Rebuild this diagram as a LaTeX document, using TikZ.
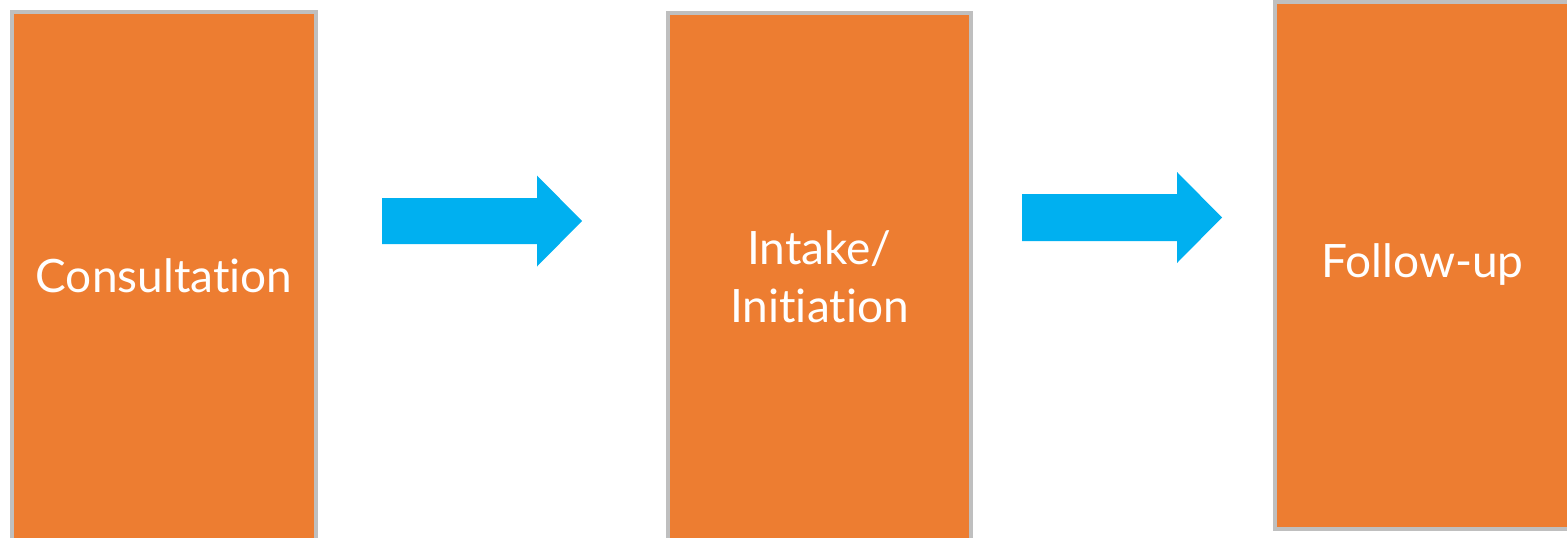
\documentclass[tikz,border=0pt]{standalone}
\usepackage{fontspec}
\setmainfont{Lato}[Ligatures=NoCommon]
\definecolor{boxorange}{HTML}{ED7D31}
\definecolor{boxgray}{HTML}{BFBFBF}
\definecolor{arrowblue}{HTML}{00B0F0}
\tikzset{
  stagebox/.style={fill=boxorange, draw=boxgray, line width=4pt, inner sep=0pt,
    text=white, font=\fontsize{46}{58}\selectfont, align=center},
  flowarrow/.style={fill=arrowblue, draw=none}
}
\begin{document}
\begin{tikzpicture}[x=1pt,y=-1pt]
\useasboundingbox (0,0) rectangle (1567,538);
\clip (0,0) rectangle (1567,538);
\node[stagebox, minimum width=304pt, minimum height=528pt] (b1) at (164,276) {Consultation};
\node[stagebox, minimum width=303pt, minimum height=528pt] (b2) at (819.5,277) {Intake/\\Initiation};
\node[stagebox, minimum width=295pt, minimum height=527pt] (b3) at (1422.5,265) {Follow-up};
% arrow from b1 to b2
\coordinate (a1s) at (382,221);
\coordinate (a1t) at (582,221);
\fill[flowarrow] ([yshift=-23pt]a1s) -- ([xshift=-45pt,yshift=-23pt]a1t) -- ([xshift=-45pt,yshift=-45.5pt]a1t)
  -- (a1t) -- ([xshift=-45pt,yshift=45.5pt]a1t) -- ([xshift=-45pt,yshift=23pt]a1t) -- ([yshift=23pt]a1s) -- cycle;
% arrow from b2 to b3
\coordinate (a2s) at (1022,217.5);
\coordinate (a2t) at (1222,217.5);
\fill[flowarrow] ([yshift=-23.5pt]a2s) -- ([xshift=-45pt,yshift=-23.5pt]a2t) -- ([xshift=-45pt,yshift=-45.5pt]a2t)
  -- (a2t) -- ([xshift=-45pt,yshift=45.5pt]a2t) -- ([xshift=-45pt,yshift=23.5pt]a2t) -- ([yshift=23.5pt]a2s) -- cycle;
\end{tikzpicture}
\end{document}
